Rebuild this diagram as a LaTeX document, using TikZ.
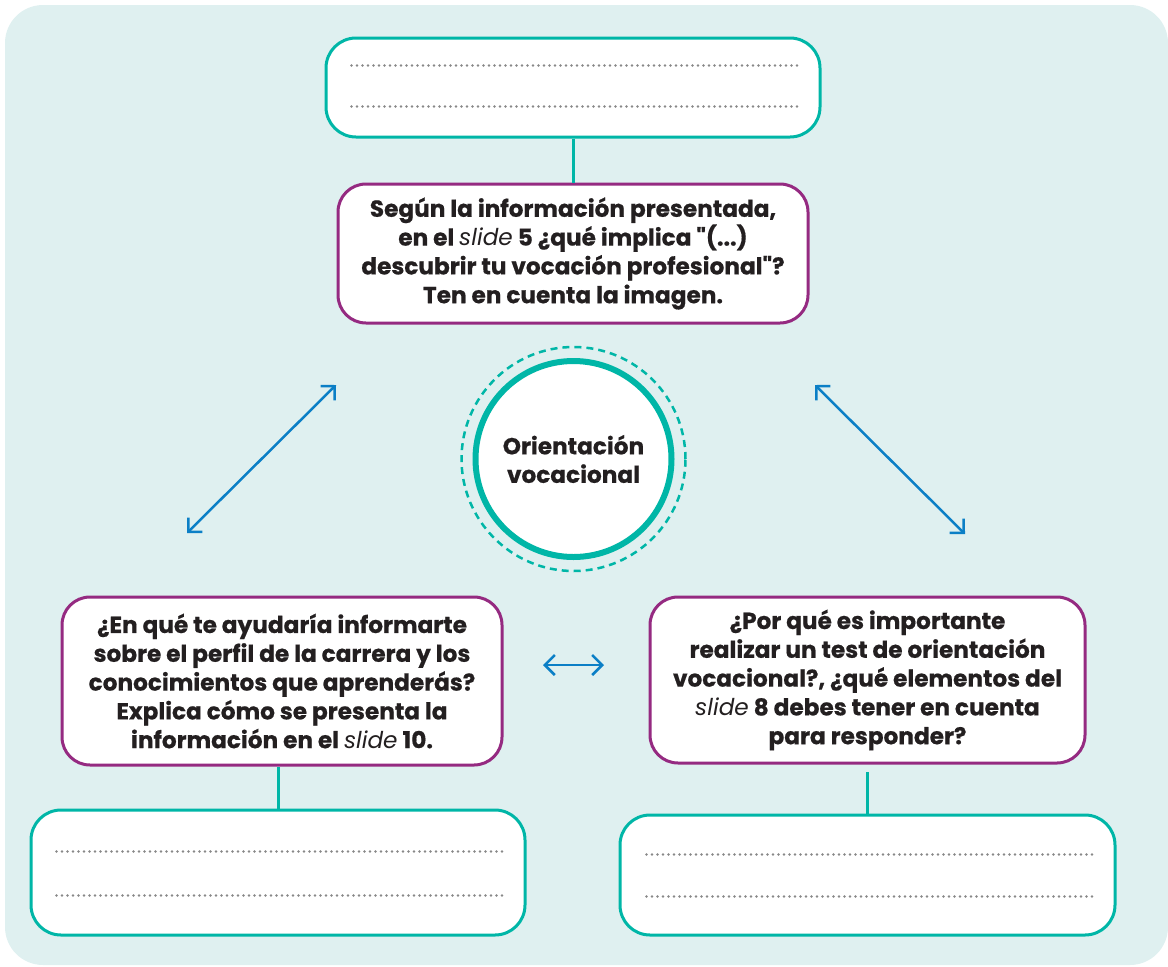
\documentclass[tikz,border=0pt]{standalone}
\usepackage{fontspec}
\setmainfont{Poppins}[BoldFeatures={FakeBold=0.6}]
\usetikzlibrary{arrows.meta,calc}
\definecolor{bgc}{HTML}{DFF0F0}
\definecolor{tealc}{HTML}{00B6A7}
\definecolor{purc}{HTML}{952A81}
\definecolor{bluec}{HTML}{0B7FC6}
\definecolor{dotc}{HTML}{888888}
\definecolor{txtc}{HTML}{231F20}
\newcommand{\sld}{{\mdseries\itshape slide}}
\newcommand{\qq}{\textquotedbl}
\tikzset{
  answerbox/.style={draw=tealc, line width=3pt, fill=white, rounded corners=30pt, inner sep=0pt},
  questionbox/.style={draw=purc, line width=3pt, fill=white, rounded corners=28pt, inner sep=0pt,
     align=center, text=txtc, font=\bfseries\fontsize{23.2}{28.8}\selectfont},
  link/.style={draw=tealc, line width=3pt},
  biarrow/.style={draw=bluec, line width=2.5pt,
     {Straight Barb[length=10pt,width=20pt,line width=2.5pt]}-{Straight Barb[length=10pt,width=20pt,line width=2.5pt]}},
  dotline/.style={draw=dotc, line width=2.8pt, line cap=round, dash pattern=on 0pt off 5.5pt},
  hub/.style={circle, draw=tealc, line width=6pt, fill=white, minimum size=196pt, inner sep=0pt,
     align=center, text=txtc, font=\bfseries\fontsize{23.2}{28.5}\selectfont},
  hubring/.style={draw=tealc, line width=2.5pt, dash pattern=on 7pt off 5pt}
}
\begin{document}
\begin{tikzpicture}[x=1pt,y=-1pt]
\useasboundingbox (0,0) rectangle (1168,967);
\fill[bgc, rounded corners=38pt] (5,5) rectangle (1168,965);

% top answer box and question
\node[answerbox, minimum width=494pt, minimum height=99pt] (tA) at (573,87.5) {};
\draw[dotline] ([shift={(27,29)}]tA.north west) -- ([shift={(-23,29)}]tA.north east);
\draw[dotline] ([shift={(27,70)}]tA.north west) -- ([shift={(-23,70)}]tA.north east);

\node[questionbox, minimum width=470pt, minimum height=139pt] (q1) at (573,253.5)
  {Según la información presentada,\\en el \sld{} 5 ¿qué implica \qq(...)\\descubrir tu vocación profesional\qq?\\Ten en cuenta la imagen.};
\draw[link] (tA.south) -- (q1.north);

% hub
\draw[hubring] (573.5,459) circle[radius=112pt];
\node[hub] (hub) at (573.5,459) {Orientación\\vocacional};

% left question and answer
\node[questionbox, minimum width=440pt, minimum height=168pt] (qL) at (282,681)
  {¿En qué te ayudaría informarte\\sobre el perfil de la carrera y los\\conocimientos que aprenderás?\\Explica cómo se presenta la\\información en el \sld{} 10.};
\node[answerbox, minimum width=494pt, minimum height=125pt] (bL) at (278,872.5) {};
\draw[dotline] ([shift={(27,43)}]bL.north west) -- ([shift={(-23,43)}]bL.north east);
\draw[dotline] ([shift={(27,87)}]bL.north west) -- ([shift={(-23,87)}]bL.north east);
\draw[link] (bL.north) -- (bL.north |- qL.south);

% right question and answer
\node[questionbox, minimum width=435pt, minimum height=166pt] (qR) at (867.5,680)
  {¿Por qué es importante\\realizar un test de orientación\\vocacional?, ¿qué elementos del\\\sld{} 8 debes tener en cuenta\\para responder?};
\node[answerbox, minimum width=495pt, minimum height=120pt] (bR) at (867.5,875) {};
\draw[dotline] ([shift={(28,41)}]bR.north west) -- ([shift={(-23,41)}]bR.north east);
\draw[dotline] ([shift={(28,83)}]bR.north west) -- ([shift={(-23,83)}]bR.north east);
\coordinate (qRlow) at ([yshift=-7pt]qR.south);
\draw[link] (bR.north) -- (bR.north |- qRlow);

% arrows
\coordinate (aL1) at (187,533);
\coordinate (aL2) at (336,385);
\coordinate (aR1) at (815,385);
\coordinate (aR2) at (965,534);
\coordinate (aH1) at (543,665);
\coordinate (aH2) at (604,665);
\draw[biarrow] (aL1) -- (aL2);
\draw[biarrow] (aR1) -- (aR2);
\draw[biarrow] (aH1) -- (aH2);
\end{tikzpicture}
\end{document}
